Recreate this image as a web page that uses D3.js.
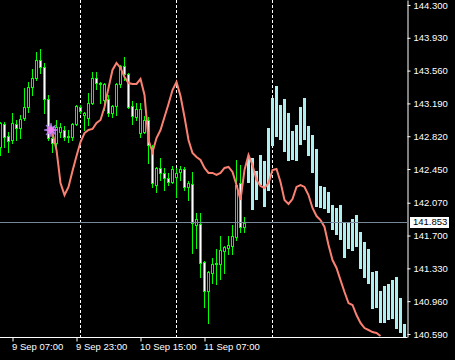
<!DOCTYPE html>
<html>
<head>
<meta charset="utf-8">
<script src="https://cdn.jsdelivr.net/npm/d3@7"></script>
<style>
  body { margin: 0; background: #000; }
  svg { display: block; }
  text { font-family: "Liberation Sans", Arial, sans-serif; font-size: 9.5px; }
</style>
</head>
<body>
<div id="chart"></div>
<script>
/* global d3 */

// hourly candles, first one is 9 Sep 04:00
const firstBar = new Date(2024, 8, 9, 4)
const candleOpen = [142.699, 142.958, 142.823, 142.778, 142.958, 142.913, 143.026, 143.149, 143.375, 143.477,
  143.680, 143.601, 143.240, 142.800, 142.744, 142.868, 142.890, 142.811, 142.811, 142.958,
  143.149, 143.059, 143.026, 143.195, 143.477, 143.409, 143.229, 143.240, 143.082, 143.161,
  143.409, 143.612, 143.522, 143.161, 143.037, 142.856, 142.868, 143.003, 142.687, 142.270,
  142.462, 142.406, 142.349, 142.304, 142.360, 142.417, 142.451, 142.248, 142.281, 141.819,
  141.830, 141.401, 141.074, 141.277, 141.379, 141.379, 141.526, 141.560, 141.582, 141.683,
  142.293, 141.797]
const candleHigh = [142.981, 142.981, 142.868, 143.082, 143.003, 143.059, 143.364, 143.432, 143.578, 143.770,
  143.804, 143.646, 143.285, 142.856, 143.003, 142.969, 142.935, 142.890, 142.969, 143.172,
  143.172, 143.093, 143.308, 143.544, 143.544, 143.432, 143.420, 143.285, 143.172, 143.420,
  143.623, 143.714, 143.533, 143.217, 143.195, 143.195, 143.048, 143.037, 142.721, 142.473,
  142.574, 142.462, 142.406, 142.484, 142.462, 142.484, 142.473, 142.315, 142.417, 141.954,
  141.954, 141.410, 141.295, 141.447, 141.548, 141.695, 141.582, 141.695, 141.819, 142.552,
  142.496, 141.909]
const candleLow = [142.608, 142.699, 142.642, 142.744, 142.778, 142.800, 143.003, 143.093, 143.285, 143.454,
  143.533, 143.082, 142.778, 142.642, 142.699, 142.811, 142.778, 142.755, 142.778, 142.947,
  143.082, 142.890, 142.947, 143.183, 143.353, 143.195, 143.116, 143.048, 143.037, 143.059,
  143.375, 143.454, 143.138, 142.958, 143.003, 142.811, 142.856, 142.518, 142.248, 142.191,
  142.327, 142.214, 142.270, 142.293, 142.135, 142.327, 142.214, 142.101, 141.503, 141.560,
  141.232, 140.894, 140.714, 141.165, 141.153, 141.210, 141.277, 141.492, 141.492, 141.650,
  141.740, 141.740]
const candleClose = [142.969, 142.811, 142.766, 142.969, 142.913, 143.014, 143.149, 143.375, 143.477, 143.680,
  143.601, 143.240, 142.800, 142.744, 142.924, 142.924, 142.811, 142.823, 142.958, 143.161,
  143.104, 143.082, 143.195, 143.477, 143.420, 143.420, 143.409, 143.082, 143.161, 143.409,
  143.612, 143.522, 143.149, 143.048, 143.127, 143.127, 143.003, 142.721, 142.293, 142.462,
  142.406, 142.349, 142.304, 142.451, 142.406, 142.451, 142.248, 142.293, 141.842, 141.887,
  141.390, 141.074, 141.289, 141.379, 141.385, 141.537, 141.571, 141.593, 141.695, 142.270,
  141.797, 141.842]

// projected bars (light blue), hourly from 11 Sep 18:00
const forecastStart = new Date(2024, 8, 11, 18)
const forecastHigh = [142.574, 142.574, 142.428, 142.608, 142.540, 142.913, 143.251, 143.387, 143.172, 143.240,
  143.082, 142.879, 142.947, 143.149, 143.251, 142.935, 142.834, 142.676, 142.259, 142.248,
  142.191, 142.045, 142.011, 142.045, 141.853, 141.842, 141.887, 141.932, 141.740, 141.627,
  141.548, 141.289, 141.300, 141.074, 141.131, 141.153, 141.198, 141.232, 140.996, 140.702]
const forecastLow = [142.293, 141.988, 142.101, 142.270, 142.022, 142.203, 142.710, 142.811, 142.778, 142.642,
  142.540, 142.552, 142.540, 142.721, 142.778, 142.597, 142.406, 142.022, 142.011, 141.999,
  141.954, 141.762, 141.706, 141.650, 141.447, 141.548, 141.526, 141.571, 141.323, 141.221,
  141.153, 140.871, 140.883, 140.714, 140.714, 140.747, 140.759, 140.646, 140.601, 140.560]

// salmon indicator line, hourly from 9 Sep 17:00
const lineStart = new Date(2024, 8, 9, 17)
const lineValues = [142.856, 142.665, 142.293, 142.157, 142.248, 142.428, 142.597, 142.755, 142.856, 142.890,
  142.902, 142.969, 143.003, 143.149, 143.364, 143.567, 143.646, 143.590, 143.488, 143.420,
  143.409, 143.409, 143.465, 143.285, 142.778, 142.642, 142.800, 142.890, 143.037, 143.183,
  143.341, 143.432, 143.274, 143.037, 142.778, 142.631, 142.586, 142.552, 142.462, 142.406,
  142.406, 142.383, 142.406, 142.462, 142.473, 142.417, 142.270, 142.101, 142.439, 142.608,
  142.496, 142.327, 142.259, 142.236, 142.293, 142.439, 142.451, 142.304, 142.101, 142.056,
  142.112, 142.248, 142.270, 142.248, 142.157, 142.011, 141.920, 141.875, 141.797, 141.593,
  141.424, 141.334, 141.198, 141.063, 140.939, 140.917, 140.804, 140.714, 140.657, 140.635,
  140.612, 140.601, 140.567]

const starTime = new Date(2024, 8, 9, 17)
const starPrice = 142.890
const currentPrice = 141.853

const priceTicks = [144.300, 143.930, 143.560, 143.190, 142.820, 142.450, 142.070, 141.700, 141.330, 140.960, 140.590]
const timeTicks = ['2024-09-09 07:00', '2024-09-09 23:00', '2024-09-10 15:00', '2024-09-11 07:00']
const daySeparators = ['2024-09-10 00:00', '2024-09-11 00:00', '2024-09-12 00:00']

const width = 455,
  height = 360,
  plotW = 407,
  plotH = 337

const parseTime = d3.timeParse('%Y-%m-%d %H:%M')

const svg = d3.select('#chart')
  .append('svg')
  .attr('width', width)
  .attr('height', height)
  .style('background', '#000')

const x = d3.scaleTime()
  .domain([new Date(2024, 8, 9, 4), new Date(2024, 8, 13, 10)])
  .range([0, 408])

const y = d3.scaleLinear()
  .domain([140.556, 144.356])
  .range([plotH, 0])

const px = t => Math.round(x(t))
const py = v => Math.round(y(v))

svg.append('clipPath').attr('id', 'plot')
  .append('rect').attr('width', plotW).attr('height', plotH)

const plot = svg.append('g').attr('clip-path', 'url(#plot)')

// day separators
plot.selectAll('line.sep')
  .data(daySeparators.map(parseTime))
  .enter()
  .append('line')
  .attr('x1', d => px(d) + 0.5)
  .attr('x2', d => px(d) + 0.5)
  .attr('y1', 0)
  .attr('y2', plotH)
  .attr('stroke', '#fff')
  .attr('stroke-dasharray', '3,2')

// candles
const candles = candleOpen.map((o, i) => ({
  t: d3.timeHour.offset(firstBar, i),
  o: o, h: candleHigh[i], l: candleLow[i], c: candleClose[i]
}))

const cg = plot.selectAll('g.candle')
  .data(candles)
  .enter()
  .append('g')

cg.append('rect')
  .attr('x', d => px(d.t))
  .attr('width', 1)
  .attr('y', d => py(d.h))
  .attr('height', d => py(d.l) - py(d.h) + 1)
  .attr('fill', '#00ff00')

cg.append('rect')
  .attr('x', d => px(d.t) - 1)
  .attr('width', 3)
  .attr('y', d => py(Math.max(d.o, d.c)))
  .attr('height', d => py(Math.min(d.o, d.c)) - py(Math.max(d.o, d.c)) + 1)
  .attr('fill', '#00ff00')

cg.filter(d => py(Math.min(d.o, d.c)) - py(Math.max(d.o, d.c)) > 1)
  .append('rect')
  .attr('x', d => px(d.t))
  .attr('width', 1)
  .attr('y', d => py(Math.max(d.o, d.c)) + 1)
  .attr('height', d => py(Math.min(d.o, d.c)) - py(Math.max(d.o, d.c)) - 1)
  .attr('fill', d => d.c >= d.o ? '#000' : '#fff')

// projection bars
plot.selectAll('rect.fc')
  .data(forecastHigh)
  .enter()
  .append('rect')
  .attr('x', (d, i) => px(d3.timeHour.offset(forecastStart, i)) - 1)
  .attr('width', 3)
  .attr('y', d => py(d))
  .attr('height', (d, i) => py(forecastLow[i]) - py(d))
  .attr('fill', '#afeeee')

// indicator line
const line = d3.line()
  .x((d, i) => px(d3.timeHour.offset(lineStart, i)) + 0.5)
  .y(d => y(d))

plot.append('path')
  .datum(lineValues)
  .attr('d', line)
  .attr('fill', 'none')
  .attr('stroke', '#fa8072')
  .attr('stroke-width', 2)

// bid line
plot.append('line')
  .attr('x1', 0)
  .attr('x2', plotW)
  .attr('y1', py(currentPrice) + 0.5)
  .attr('y2', py(currentPrice) + 0.5)
  .attr('stroke', '#778899')

// star marker
const starPts = d3.range(16).map(i => [i * Math.PI / 8, i % 2 ? 3 : 7])
plot.append('path')
  .attr('transform', `translate(${px(starTime) - 1},${y(starPrice)})`)
  .attr('d', d3.lineRadial().curve(d3.curveLinearClosed)(starPts))
  .attr('fill', '#f080f0')
  .attr('stroke', '#9a7cf0')
  .attr('stroke-width', 0.7)

// price axis
const yAxis = d3.axisRight(y)
  .tickValues(priceTicks)
  .tickSize(3)
  .tickSizeOuter(0)
  .tickPadding(3)
  .tickFormat(d3.format('.3f'))

svg.append('g')
  .attr('transform', `translate(${plotW + 0.5},0)`)
  .call(yAxis)
  .call(g => g.selectAll('path,line').attr('stroke', '#fff'))
  .call(g => g.selectAll('text').attr('fill', '#fff'))

// time axis
const xAxis = d3.axisBottom(x)
  .tickValues(timeTicks.map(parseTime))
  .tickSize(4)
  .tickSizeOuter(0)
  .tickPadding(2)
  .tickFormat(d3.timeFormat('%-d %b %H:%M'))

svg.append('g')
  .attr('transform', `translate(0.5,${plotH + 0.5})`)
  .call(xAxis)
  .call(g => g.select('.domain').attr('d', `M-0.5,0H${plotW}`))
  .call(g => g.selectAll('path,line').attr('stroke', '#fff'))
  .call(g => g.selectAll('text').attr('fill', '#fff').attr('text-anchor', 'start').attr('x', -1))

// bid label
const bidY = py(currentPrice)
svg.append('rect')
  .attr('x', plotW + 3)
  .attr('y', bidY - 5)
  .attr('width', 39)
  .attr('height', 11)
  .attr('fill', '#fff')
svg.append('text')
  .attr('x', plotW + 6)
  .attr('y', bidY)
  .attr('dy', '0.35em')
  .attr('fill', '#000')
  .text(d3.format('.3f')(currentPrice))
</script>
</body>
</html>
